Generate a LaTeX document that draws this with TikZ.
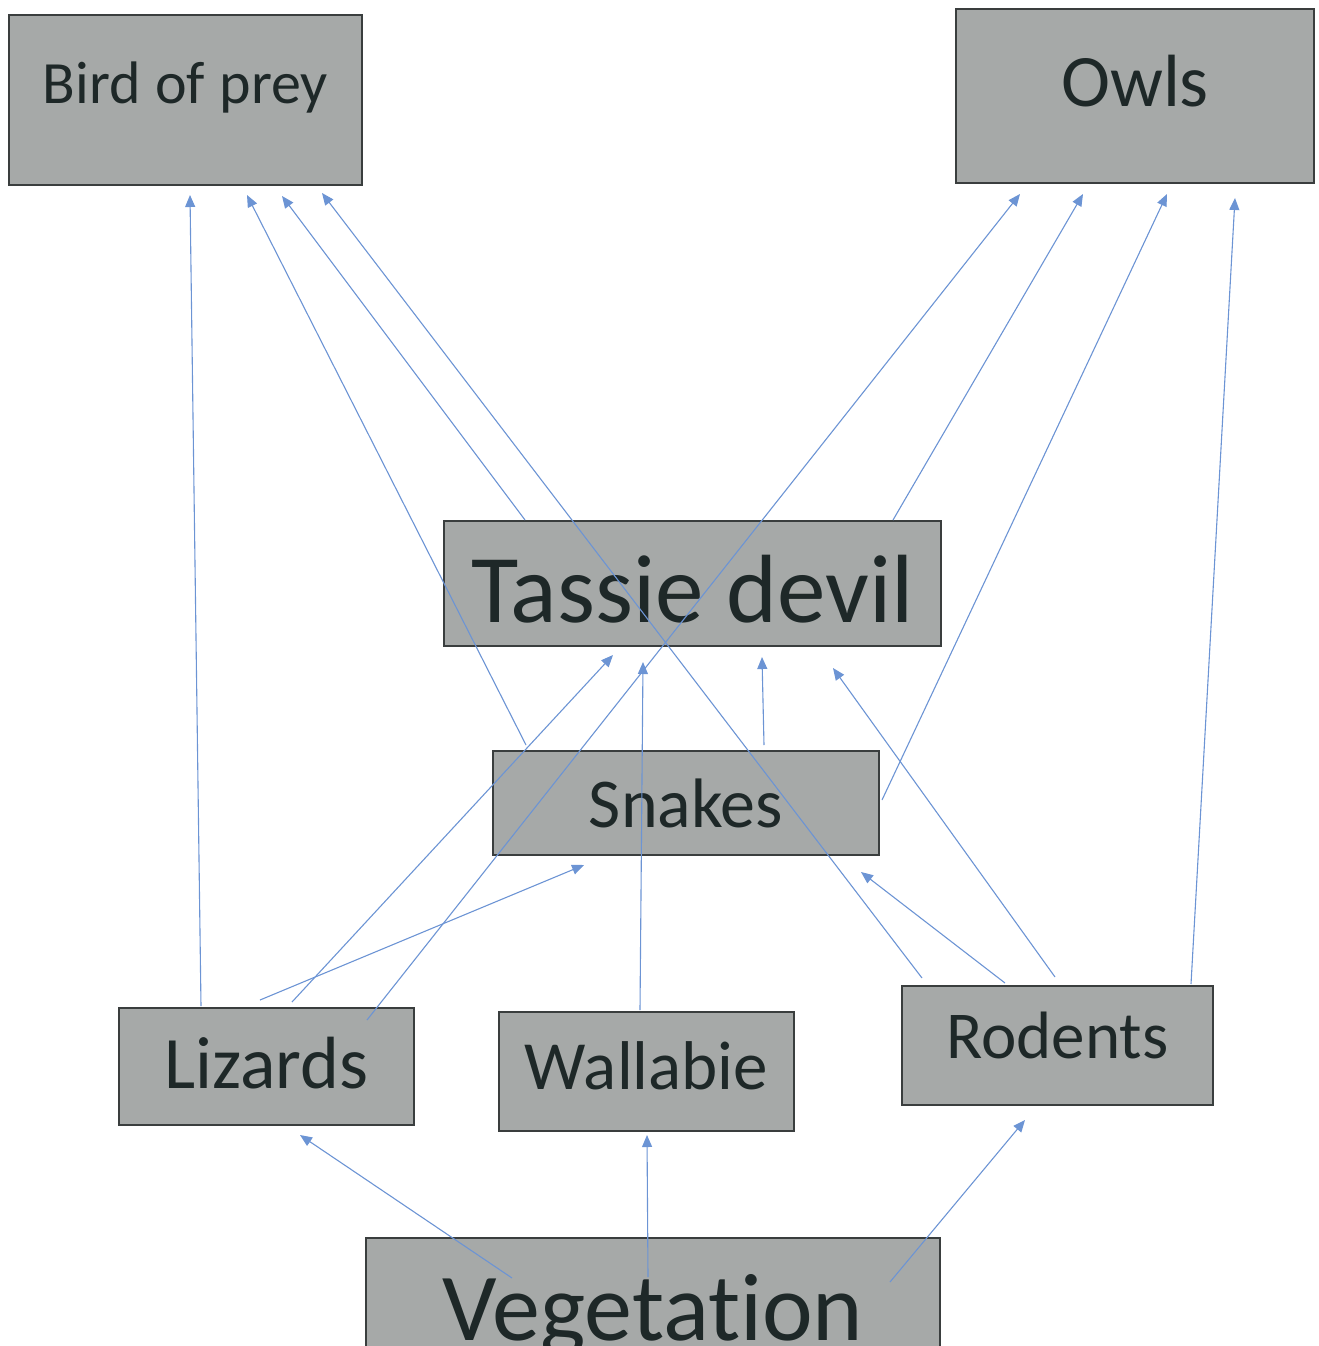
\documentclass[tikz,border=0pt]{standalone}
\usepackage{fontspec}
\setmainfont{Carlito}[Ligatures=NoCommon]
\usetikzlibrary{arrows.meta,calc}

\definecolor{boxfill}{RGB}{166,169,168}
\definecolor{boxline}{RGB}{58,62,62}
\definecolor{boxtext}{RGB}{30,40,40}
\definecolor{linkblue}{RGB}{108,148,212}

\tikzset{
  species/.style={draw=boxline, line width=1.8pt, fill=boxfill, text=boxtext,
    inner sep=0pt, outer sep=0pt, align=center,
    execute at begin node={\spaceskip=0.24em\relax}},
  link/.style={draw=linkblue, line width=1.1pt,
    -{Triangle[length=12pt,width=10pt]}},
}
\newcommand{\fsz}[1]{\fontsize{#1}{#1}\selectfont}

\begin{document}
\begin{tikzpicture}[x=1pt,y=-1pt]
  \clip (0,0) rectangle (1319,1346);

  % species boxes (text height/depth place the baseline inside each box)
  \node[species, text width=353pt, text height=88pt, text depth=82pt, font=\fsz{60}]
    (bird) at (185.5,100) {Bird of prey};
  \node[species, text width=358pt, text height=97pt, text depth=77pt, font=\fsz{74}]
    (owls) at (1135,96) {Owls};
  \node[species, text width=497pt, text height=101pt, text depth=24pt, font=\fsz{97}]
    (tas) at (692.5,583.5) {Tassie devil};
  \node[species, text width=386pt, text height=76pt, text depth=28pt, font=\fsz{70}]
    (snk) at (686,803) {Snakes};
  \node[species, text width=295pt, text height=80pt, text depth=37pt, font=\fsz{74}]
    (liz) at (266.5,1066.5) {Lizards};
  \node[species, text width=295pt, text height=77pt, text depth=42pt, font=\fsz{69}]
    (wal) at (646.5,1071.5) {Wallabie};
  \node[species, text width=311pt, text height=72pt, text depth=47pt, font=\fsz{67}]
    (rod) at (1057.5,1045.5) {Rodents};
  \node[species, text width=574pt, text height=102pt, text depth=60pt, font=\fsz{96}]
    (veg) at (653,1319) {Vegetation};

  % who is eaten by whom
  \draw[link] ($(liz.north west)+(82,-2)$)  -- ($(bird.north west)+(181,180)$);
  \draw[link] ($(snk.north west)+(33,-6)$)  -- ($(bird.north west)+(238,180)$);
  \draw[link] ($(tas.north west)+(81,-1)$)  -- ($(bird.north west)+(273,181)$);
  \draw[link] ($(rod.north west)+(20,-8)$)  -- ($(bird.north west)+(313,178)$);

  \draw[link] ($(liz.north west)+(248,12)$) -- ($(owls.north west)+(64,185)$);
  \draw[link] ($(tas.north west)+(449,-1)$) -- ($(owls.north west)+(127,185)$);
  \draw[link] ($(snk.north west)+(389,49)$) -- ($(owls.north west)+(211,185)$);
  \draw[link] ($(rod.north west)+(289,-2)$) -- ($(owls.north west)+(279,189)$);

  \draw[link] ($(liz.north west)+(173,-6)$) -- ($(tas.north west)+(169,134)$);
  \draw[link] ($(wal.north west)+(141,-2)$) -- ($(tas.north west)+(199,141)$);
  \draw[link] ($(snk.north west)+(271,-6)$) -- ($(tas.north west)+(318,136)$);
  \draw[link] ($(rod.north west)+(153,-9)$) -- ($(tas.north west)+(389,147)$);

  \draw[link] ($(liz.north west)+(141,-8)$) -- ($(snk.north west)+(91,114)$);
  \draw[link] ($(rod.north west)+(103,-3)$) -- ($(snk.north west)+(368,121)$);

  \draw[link] ($(veg.north west)+(146,40)$) -- ($(liz.north west)+(181,127)$);
  \draw[link] ($(veg.north west)+(282,39)$) -- ($(wal.north west)+(148,123)$);
  \draw[link] ($(veg.north west)+(524,44)$) -- ($(rod.north west)+(123,134)$);
\end{tikzpicture}
\end{document}
